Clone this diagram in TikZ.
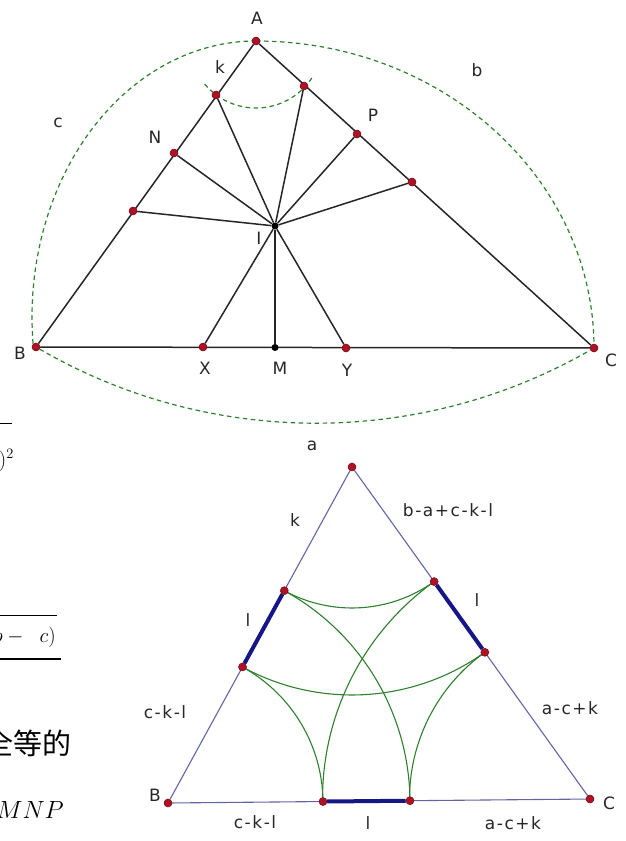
\documentclass[tikz,border=0pt]{standalone}
\usepackage{fontspec}
\newfontfamily\skfont[LetterSpace=9]{DejaVu Sans}
\newfontfamily\cjkfont{Noto Sans CJK SC}
\usepackage{tikz}
\usetikzlibrary{calc,backgrounds}
\definecolor{dotred}{RGB}{176,18,36}
\definecolor{arcgreen}{RGB}{46,128,46}
\definecolor{sideblue}{RGB}{100,100,165}
\definecolor{segblue}{RGB}{22,22,135}

\begin{document}
\begin{tikzpicture}[x=1pt,y=1pt,
  rd/.style={circle,fill=dotred,draw=dotred!60!black,line width=0.5pt,inner sep=0pt,minimum size=8pt},
  bd/.style={circle,fill=black,inner sep=0pt,minimum size=7pt},
  lbl/.style={font=\skfont\fontsize{17}{19}\selectfont,text=black!85,inner sep=0pt},
  ln/.style={line width=1.5pt,black!85},
  arcd/.style={dash pattern=on 4.5pt off 3.5pt,line width=1.2pt,arcgreen},
  side/.style={line width=1.1pt,sideblue},
  seg/.style={line width=4pt,segblue},
  garc/.style={line width=1.1pt,arcgreen},
  frag/.style={inner sep=0pt,font=\fontsize{22}{26}\selectfont}]
  \useasboundingbox (0,0) rectangle (626,-841);
  \clip (0,0) rectangle (626,-841);
  % incircle construction
  \begin{scope}
   \node[rd](A) at (256,-41){};\node[rd](B) at (36,-347){};\node[rd](C) at (594,-348){};
   \node[rd](K) at (216,-95){};\node[rd](N) at (174,-153){};\node[rd](D) at (133,-211){};
   \node[rd](E) at (304,-86){};\node[rd](P) at (357,-134){};\node[rd](F) at (412,-182){};
   \node[rd](X) at (203,-347){};\node[rd](Y) at (346,-348){};
   \node[bd](M) at (275,-347.5){};\node[bd](I) at (275,-226){};
   \begin{scope}[on background layer]
    \draw[ln](A)--(B)--(C)--(A);
    \foreach \p in {K,N,D,E,P,F,X,M,Y} \draw[ln](I)--(\p);
    \draw[arcd](A) arc[start angle=90,end angle=186.2,x radius=224,y radius=276];
    \draw[arcd](A) arc[start angle=90,end angle=0,x radius=338,y radius=307];
    \draw[arcd](B) to[bend right=30,looseness=0.91] (C);
    \draw[arcd](A) ++(220:67) arc[start angle=220,end angle=328,radius=67];
   \end{scope}
   \node[lbl](lA) at (257,-18){A};\node[lbl](lk) at (220,-67){k};
   \node[lbl](lN) at (155,-137){N};\node[lbl](lc) at (58,-123){c};
   \node[lbl](lb) at (477,-70){b};\node[lbl](lP) at (373,-115){P};
   \node[lbl](lI) at (259,-238){I};\node[lbl](lB) at (20,-353){B};
   \node[lbl](lX) at (205,-368){X};\node[lbl](lM) at (280,-368){M};
   \node[lbl](lY) at (347,-370){Y};\node[lbl](lC) at (611,-360){C};
   \node[lbl](la) at (312,-446){a};
  \end{scope}
  % arcs about the vertices
  \begin{scope}
   \node[rd](tA) at (352,-467){};\node[rd](tB) at (168,-803){};\node[rd](tC) at (590,-799){};
   \node[rd](LU) at ($(tA)!141pt!(tB)$){};\node[rd](LL) at ($(tA)!228pt!(tB)$){};
   \node[rd](RU) at ($(tA)!141pt!(tC)$){};\node[rd](RL) at ($(tA)!228pt!(tC)$){};
   \node[rd](BL) at ($(tB)!155pt!(tC)$){};\node[rd](BR) at ($(tB)!242pt!(tC)$){};
   \begin{scope}[on background layer]
    \draw[side](tA)--(tB)--(tC)--(tA);
    \draw[seg](LU)--(LL);\draw[seg](RU)--(RL);\draw[seg](BL)--(BR);
    \draw[garc](LU) arc[start angle=241.3,end angle=305.64,radius=141];
    \draw[garc](LL) arc[start angle=241.3,end angle=305.64,radius=228];
    \draw[garc](BL) arc[start angle=0.54,end angle=61.3,radius=155.08];
    \draw[garc](BR) arc[start angle=0.54,end angle=61.3,radius=242.08];
    \draw[garc](RL) arc[start angle=125.64,end angle=180.54,radius=180.49];
    \draw[garc](RU) arc[start angle=125.64,end angle=180.54,radius=267.49];
   \end{scope}
   \node[lbl](lk2) at (295,-520){k};\node[lbl](ll1) at (248,-620){l};
   \node[lbl](lckl1) at (165,-712){c-k-l};\node[lbl](lB2) at (155,-795){B};
   \node[lbl](lckl2) at (255,-822){c-k-l};\node[lbl](lbackl) at (448,-510){b-a+c-k-l};
   \node[lbl](ll2) at (477,-600){l};\node[lbl](lack1) at (570,-708){a-c+k};
   \node[lbl](lC2) at (609,-803){C};\node[lbl](ll3) at (368,-823){l};
   \node[lbl](lack2) at (513,-823){a-c+k};
  \end{scope}
  % cut text at the left edge
  \draw[line width=1pt](0,-423)--(12,-423);
  \node[frag,anchor=base east](f1) at (14,-466){$)^{2}$};
  \draw[line width=1pt](0,-615)--(57,-615);
  \node[frag,anchor=base east](f2) at (56,-642){$(a+b-\mkern10mu c)$};
  \draw[line width=1.2pt](0,-659)--(61,-659);
  \node[inner sep=0pt,anchor=east,font=\cjkfont\fontsize{29}{32}\selectfont](f3) at (72,-743){全等的};
  \node[inner sep=0pt,anchor=base east,font=\fontsize{29}{32}\selectfont](f4) at (64,-818){$MNP$};
\end{tikzpicture}
\end{document}
